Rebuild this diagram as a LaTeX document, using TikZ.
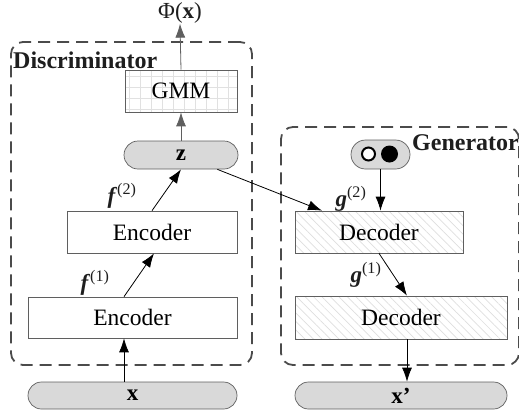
\documentclass[tikz,border=0pt]{standalone}
\usepackage{fontspec}
\setmainfont{Liberation Serif}
\usepackage{tikz}
\usetikzlibrary{arrows.meta,patterns.meta,shapes.misc}

\begin{document}
\begin{tikzpicture}[x=1pt,y=-1pt,
    groupbox/.style={draw=dashgray, line width=1.8pt, dash pattern=on 12pt off 7pt,
        rounded corners=12pt, minimum width=#1, inner sep=0pt},
    block/.style={draw=boxgray, line width=0.7pt, fill=white, inner sep=0pt,
        font=\fontsize{23.5}{27}\selectfont},
    pill/.style={rounded rectangle, draw=boxgray, line width=0.7pt, fill=pillfill,
        inner sep=0pt, font=\fontsize{23}{27}\selectfont\bfseries},
    hatched/.style={block, pattern={Lines[angle=-45,distance=6pt,line width=0.7pt]},
        pattern color=hatchgray},
    gridded/.style={block, path picture={\draw[gridgray, line width=0.5pt, step=11pt]
        (path picture bounding box.south west) grid (path picture bounding box.north east);}},
    title/.style={font=\fontsize{24}{28}\selectfont\bfseries, text=txt, inner sep=0pt},
    lbl/.style={font=\fontsize{23}{27}\selectfont, text=txt, inner sep=0pt},
    arr/.style={-{Latex[length=14pt,width=10pt]}, line width=0.8pt}]
    % Define colors
    \definecolor{dashgray}{RGB}{75,75,75}
    \definecolor{boxgray}{RGB}{95,95,95}
    \definecolor{pillfill}{RGB}{217,217,217}
    \definecolor{hatchgray}{RGB}{222,222,222}
    \definecolor{gridgray}{RGB}{225,225,225}
    \definecolor{txt}{RGB}{30,30,30}

    \useasboundingbox (0,0) rectangle (519,416);

    % Dashed groups
    \node[groupbox=241pt, minimum height=323pt] (disc) at (131.5,203.5) {};
    \node[groupbox=238pt, minimum height=238pt] (gen) at (400,246) {};
    \node[title, anchor=west] (disclbl) at (13,60) {Discriminator};
    \node[title, anchor=west] (genlbl) at (412,143) {Generator};

    % Discriminator side
    \node[pill, minimum width=209pt, minimum height=27pt] (x) at (132.5,395.5) {x};
    \node[block, minimum width=209pt, minimum height=41pt] (enc1) at (132.5,317.5) {Encoder};
    \node[block, minimum width=170pt, minimum height=42pt] (enc2) at (152,232) {Encoder};
    \node[pill, minimum width=114pt, minimum height=28pt] (z) at (181,155) {z};
    \node[gridded, minimum width=112pt, minimum height=42pt] (gmm) at (181,91) {GMM};
    \node[lbl] (phi) at (180,13) {Φ(\textbf{x})};

    % Generator side
    \node[pill, minimum width=59pt, minimum height=29pt] (noise) at (380.5,154.5) {};
    \draw[line width=2pt, fill=white] (368.5,154) circle (6.5pt);
    \fill (389.5,154) circle (8.5pt);
    \node[hatched, minimum width=168pt, minimum height=42pt] (dec1) at (379,232) {Decoder};
    \node[hatched, minimum width=212pt, minimum height=43pt] (dec2) at (401,317.5) {Decoder};
    \node[pill, minimum width=212pt, minimum height=27pt] (xp) at (401,395.5) {x'};

    % Layer labels
    \node[lbl] (f1) at (95,283) {\textbf{\textit{f}}\textsuperscript{(1)}};
    \node[lbl] (f2) at (122,196) {\textbf{\textit{f}}\textsuperscript{(2)}};
    \node[lbl] (g2) at (351,199) {\textbf{\textit{g}}\textsuperscript{(2)}};
    \node[lbl] (g1) at (366,275) {\textbf{\textit{g}}\textsuperscript{(1)}};

    % Connections
    \draw[arr] ([xshift=-8.5pt]x.north) -- ([xshift=-8.5pt]enc1.south);
    \draw[arr] ([xshift=-8.5pt]enc1.north) -- ([xshift=2pt]enc2.south);
    \draw[arr] (enc2.north) -- (z.south);
    \draw[arr, draw=boxgray] (z.north) -- (gmm.south);
    \draw[arr, draw=boxgray] (gmm.north) -- (phi.south);
    \draw[arr] (z) -- ([xshift=-57pt]dec1.north);
    \draw[arr] (noise.south) -- (noise.south |- dec1.north);
    \draw[arr] (dec1.south) -- ([xshift=6pt]dec2.north);
    \draw[arr] ([xshift=6pt]dec2.south) -- ([xshift=6pt]xp.north);
\end{tikzpicture}
\end{document}
